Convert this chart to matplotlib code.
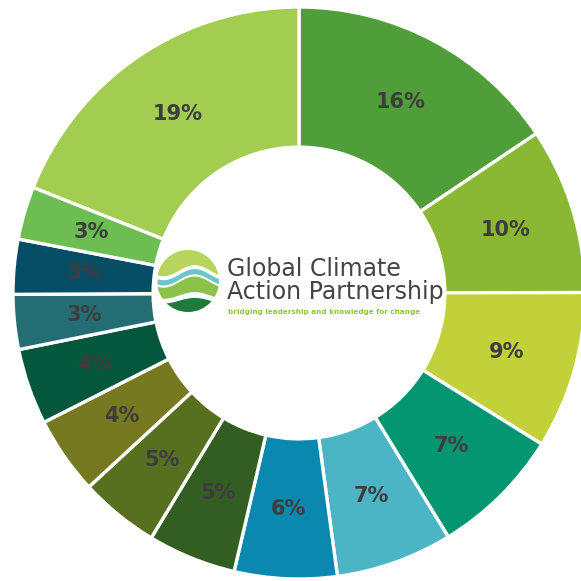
import numpy as np
import matplotlib.pyplot as plt
from matplotlib.patches import Circle

# shares (clockwise from 12 o'clock)
values = [15.6, 9.4, 8.9, 7.4, 6.6, 5.8, 5.0, 4.5, 4.4, 4.3, 3.1, 3.1, 3.0, 19.0]
labels = ["16%", "10%", "9%", "7%", "7%", "6%", "5%", "5%", "4%", "4%",
          "3%", "3%", "3%", "19%"]
colors = ["#4f9e3a", "#8ab833", "#c2d13a", "#039670", "#4bb5c5", "#0a88b0",
          "#335e22", "#56701f", "#76791f", "#02573d", "#246d74", "#064d66",
          "#6cbe52", "#a2cd50"]

W = 581
R = 286.0          # outer radius in pixels
cx, cy = 299, 293  # ring centre in pixels


def px(x, y):
    return (x - cx) / R, (cy - y) / R


fig = plt.figure(figsize=(W / 100, W / 100), dpi=100)
ax = fig.add_axes([0, 0, 1, 1])

wedges, _ = ax.pie(values, colors=colors, startangle=90, counterclock=False,
                   radius=1.0,
                   wedgeprops=dict(width=0.49, edgecolor="white", linewidth=2.4))

for w, lab in zip(wedges, labels):
    ang = np.deg2rad((w.theta1 + w.theta2) / 2)
    r = 0.755
    ax.text(r * np.cos(ang), r * np.sin(ang), lab, ha="center", va="center",
            fontsize=15, fontweight="bold", color="#3d3d3d",
            family="DejaVu Sans")

# centre logo
lx, ly = px(188, 281)
lr = 31 / R
clip = Circle((lx, ly), lr, transform=ax.transData)
t = np.linspace(-1, 1, 200)
xs = lx + t * lr


def band(y0, y1, color):
    p = ax.fill_between(xs, ly + y0 * lr, ly + y1 * lr, color=color, lw=0)
    p.set_clip_path(clip)


wave = 0.18 * np.sin(np.pi * (t + 0.3))
band(0.35 + wave, np.ones_like(t) * 1.1, "#b7d45e")
band(0.05 + wave, 0.22 + wave, "#6cc5c8")
band(-0.45 + wave * 0.6, -0.02 + wave, "#8cc14a")
band(-1.1 * np.ones_like(t), -0.62 + wave * 0.5, "#1f7a3e")

tx, ty = px(227, 276)
ax.text(tx, ty, "Global Climate", fontsize=17, color="#444444",
        ha="left", va="baseline")
tx, ty = px(227, 299)
ax.text(tx, ty, "Action Partnership", fontsize=17, color="#444444",
        ha="left", va="baseline")
tx, ty = px(228, 312)
ax.text(tx, ty, "bridging leadership and knowledge for change", fontsize=5.2,
        color="#8dc63f", ha="left", va="center", fontweight="bold")

ax.set_xlim(-cx / R, (W - cx) / R)
ax.set_ylim(-(W - cy) / R, cy / R)
ax.axis("off")

fig.savefig("out.png", dpi=100, facecolor="white")
